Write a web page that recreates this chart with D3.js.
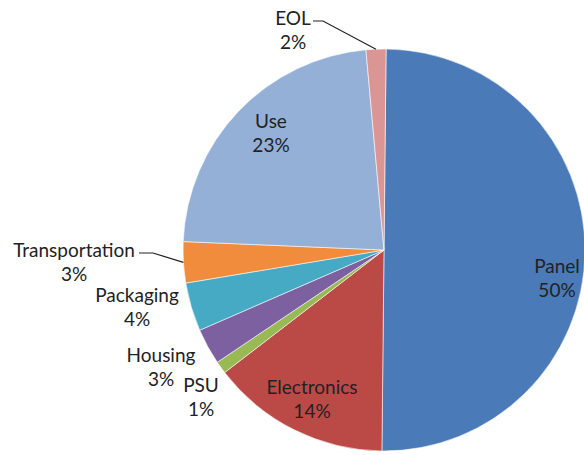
<!DOCTYPE html>
<html>
<head>
<meta charset="utf-8">
<script src="https://cdn.jsdelivr.net/npm/d3@7"></script>
<style>
  html, body { margin: 0; padding: 0; background: #fff; }
  svg { display: block; }
  text { font-family: Lato, "Open Sans", sans-serif; font-size: 19px; fill: #222; }
</style>
</head>
<body>
<svg id="chart" width="584" height="455"></svg>
<script>
// Data
const categories = ["Panel", "Electronics", "PSU", "Housing", "Packaging", "Transportation", "Use", "EOL"];
const values = [50.0, 14.4, 1.0, 2.9, 3.9, 3.3, 22.9, 1.6];
const valueLabels = ["50%", "14%", "1%", "3%", "4%", "3%", "23%", "2%"];
const colors = ["#4A7AB7", "#BB4A47", "#98B954", "#7D60A0", "#46AAC5", "#F08C3C", "#95B0D7", "#D99694"];

// Layout (label anchor centres, first-line baseline) and leader-line elbows
const labelLayout = {
  "Panel":          { x: 557, y: 273 },
  "Electronics":    { x: 312, y: 394 },
  "PSU":            { x: 201, y: 392 },
  "Housing":        { x: 161, y: 362 },
  "Packaging":      { x: 137, y: 302 },
  "Transportation": { x: 74,  y: 257, leader: [[139, 253], [153, 253]] },
  "Use":            { x: 271, y: 128 },
  "EOL":            { x: 293, y: 25,  leader: [[313, 21], [323, 21]] }
};

const svg = d3.select("#chart");
const cx = 384, cy = 250, r = 201;
const g = svg.append("g").attr("transform", `translate(${cx},${cy})`);

const data = categories.map((c, i) => ({ name: c, value: values[i], label: valueLabels[i], color: colors[i] }));

const pie = d3.pie().sort(null).value(d => d.value)
  .startAngle(0.6 * Math.PI / 180)
  .endAngle(2 * Math.PI + 0.6 * Math.PI / 180);
const arc = d3.arc().innerRadius(0).outerRadius(r);
const arcs = pie(data);

g.selectAll("path.slice").data(arcs).enter().append("path")
  .attr("class", "slice")
  .attr("d", arc)
  .attr("fill", d => d.data.color)
  .attr("stroke", "#fff")
  .attr("stroke-width", 0.8)
  .attr("stroke-opacity", 0.7);

// Leader lines
arcs.forEach(a => {
  const lay = labelLayout[a.data.name];
  if (!lay.leader) return;
  const mid = (a.startAngle + a.endAngle) / 2;
  const px = cx + r * Math.sin(mid), py = cy - r * Math.cos(mid);
  const pts = lay.leader.concat([[px, py]]);
  svg.append("path")
    .attr("d", d3.line()(pts))
    .attr("fill", "none")
    .attr("stroke", "#222")
    .attr("stroke-width", 1.2);
});

// Labels
arcs.forEach(a => {
  const lay = labelLayout[a.data.name];
  const t = svg.append("text").attr("text-anchor", "middle");
  t.append("tspan").attr("x", lay.x).attr("y", lay.y).text(a.data.name);
  t.append("tspan").attr("x", lay.x).attr("y", lay.y + 24).text(a.data.label);
});
</script>
</body>
</html>
